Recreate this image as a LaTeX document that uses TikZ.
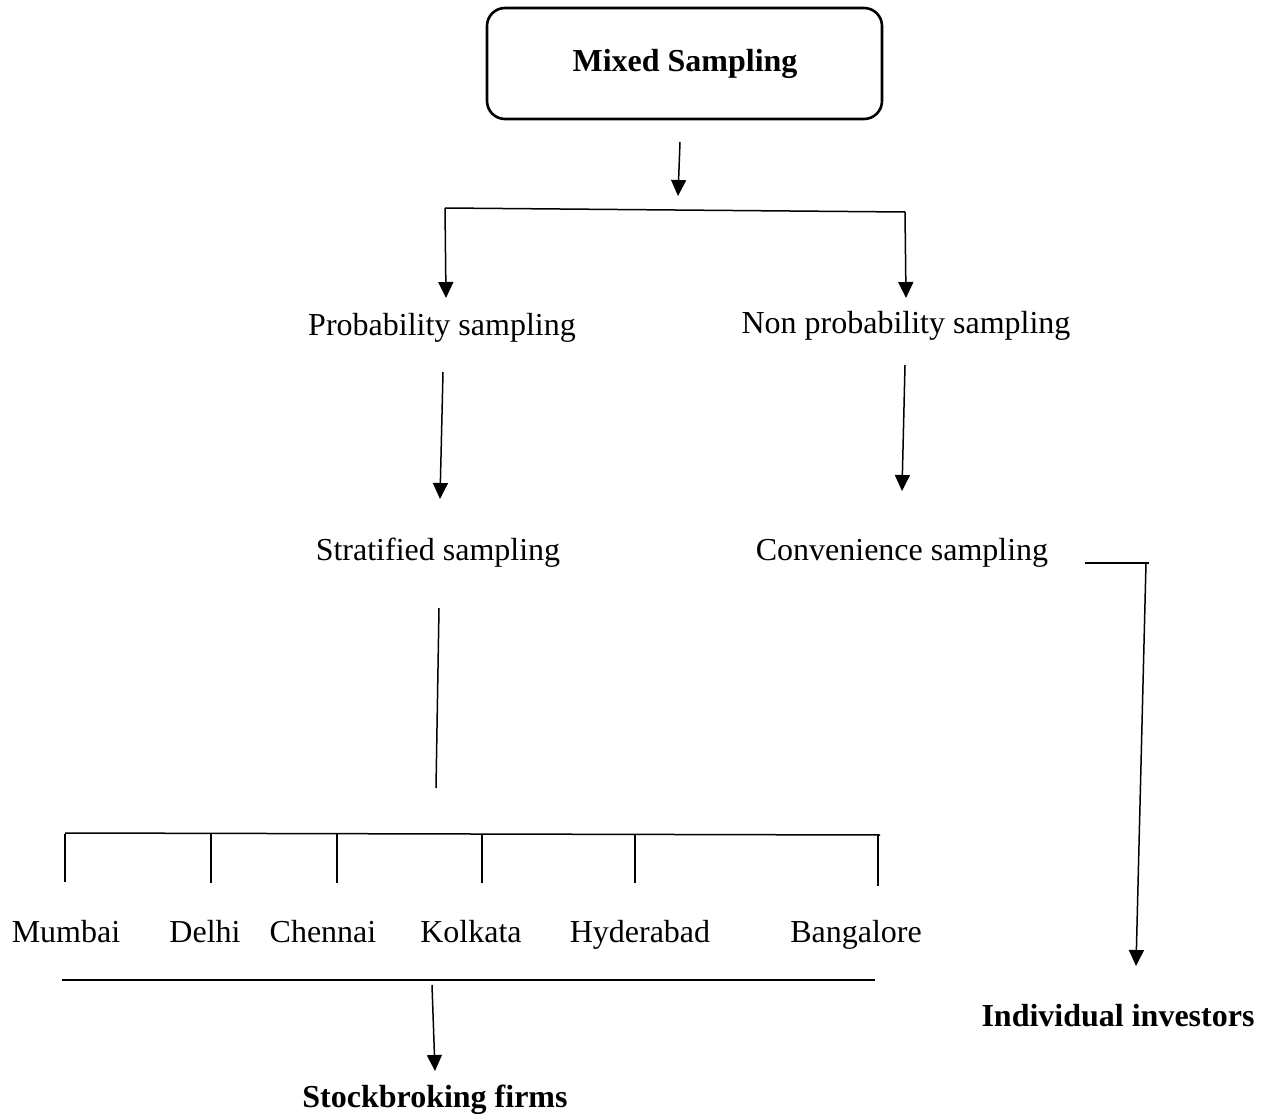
\documentclass[tikz,border=0pt]{standalone}
\usepackage{fontspec}
\setmainfont{Liberation Serif}
\usetikzlibrary{arrows.meta}
\begin{document}
\begin{tikzpicture}[x=1pt,y=-1pt,
  lbl/.style={inner sep=0pt,anchor=base,font=\fontsize{32}{36}\selectfont},
  blbl/.style={lbl,font=\fontsize{32}{36}\selectfont\bfseries},
  wire/.style={line width=1.5pt},
  arr/.style={wire,-{Triangle[length=16pt,width=15pt]}},
  topbox/.style={draw,line width=2.6pt,rounded corners=18pt,minimum width=395pt,minimum height=111pt,inner sep=0pt}]
\useasboundingbox (0,0) rectangle (1267,1118);

% top box
\node[topbox] (mix) at (684.5,63.5) {};
\node[blbl] (mixt) at (685,72) {Mixed Sampling};

% labels
\node[lbl] (prob) at (442,335) {Probability sampling};
\node[lbl] (nonp) at (906,333) {Non probability sampling};
\node[lbl] (strat) at (438,560) {Stratified sampling};
\node[lbl] (conv) at (902,560) {Convenience sampling};
\node[lbl] (mum) at (66,942) {Mumbai};
\node[lbl] (del) at (205,942) {Delhi};
\node[lbl] (che) at (323,942) {Chennai};
\node[lbl] (kol) at (471,942) {Kolkata};
\node[lbl] (hyd) at (640,942) {Hyderabad};
\node[lbl] (ban) at (856,942) {Bangalore};
\node[blbl] (indiv) at (1118,1026) {Individual investors};
\node[blbl] (stock) at (435,1107) {Stockbroking firms};

% connector points
\coordinate (a1) at (680,142);
\coordinate (a1t) at (678,196);
\coordinate (hl) at (445,208);
\coordinate (hr) at (905,212);
\coordinate (pl) at (446,298);
\coordinate (pr) at (906,298);
\coordinate (b1) at (443,372);
\coordinate (b1t) at (440,499);
\coordinate (b2) at (905,365);
\coordinate (b2t) at (902,491);
\coordinate (c1) at (1085,563);
\coordinate (c2) at (1149,563);
\coordinate (c2d) at (1146,563);
\coordinate (c3) at (1136,966);
\coordinate (s1) at (439,608);
\coordinate (s2) at (436,788);
\coordinate (tl) at (65,833);
\coordinate (tr) at (880,835);
\coordinate (bl) at (62,980);
\coordinate (br) at (875,980);
\coordinate (d1) at (432,985);
\coordinate (d1t) at (435,1071);

\draw[arr] (a1) -- (a1t);
\draw[wire] (hl) -- (hr);
\draw[arr] (hl) -- (pl);
\draw[arr] (hr) -- (pr);
\draw[arr] (b1) -- (b1t);
\draw[arr] (b2) -- (b2t);
\draw[wire] (c1) -- (c2);
\draw[arr] (c2d) -- (c3);
\draw[wire] (s1) -- (s2);
\draw[wire] (tl) -- (tr);
\foreach \x/\yb in {65/882,211/883,337/883,482/883,635/883,878/886}
  \draw[wire] (\x,833.5) -- (\x,\yb);
\draw[wire] (bl) -- (br);
\draw[arr] (d1) -- (d1t);
\end{tikzpicture}
\end{document}
